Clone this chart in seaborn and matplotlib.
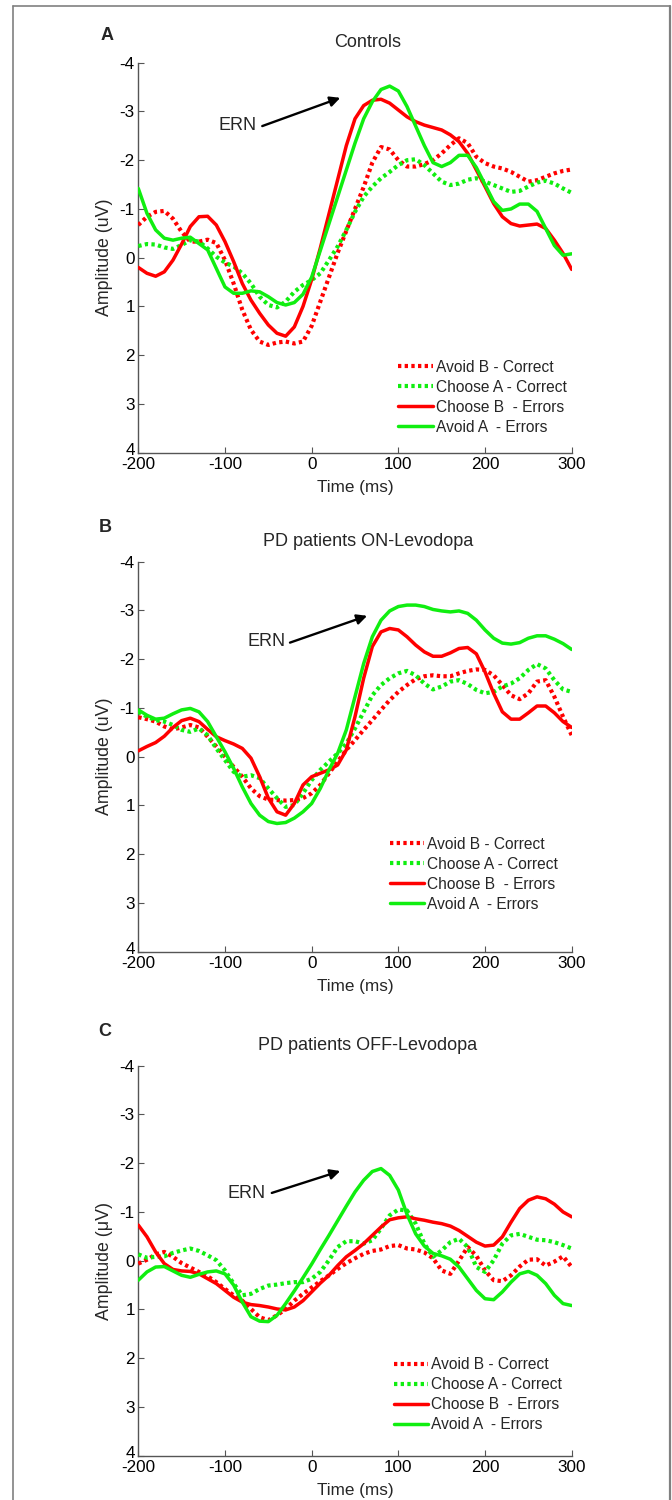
import numpy as np
import pandas as pd
import matplotlib
matplotlib.use("Agg")
import matplotlib.pyplot as plt
from matplotlib.lines import Line2D
import matplotlib.transforms as mtransforms
import seaborn as sns

sns.set_theme(style="white")
plt.rcParams['font.family'] = ['Liberation Sans', 'DejaVu Sans']

# ---------------- data ----------------
time_ms = np.arange(-200, 301, 10)
series_labels = ["Avoid B - Correct", "Choose A - Correct", "Choose B  - Errors", "Avoid A  - Errors"]
panel_titles = ["Controls", "PD patients ON-Levodopa", "PD patients OFF-Levodopa"]
panel_letters = ["A", "B", "C"]
ylabels = ["Amplitude (uV)", "Amplitude (uV)", "Amplitude (\u03bcV)"]
x_ticks = [-200, -100, 0, 100, 200, 300]
y_ticks = [-4, -3, -2, -1, 0, 1, 2, 3, 4]

# Panel A - Controls
a_avoidB_correct = [-0.67, -0.84, -0.94, -0.96, -0.80, -0.53, -0.33, -0.33, -0.37, -0.30,
                    0.05, 0.53, 1.07, 1.48, 1.72, 1.79, 1.74, 1.72, 1.76, 1.72,
                    1.40, 0.90, 0.40, -0.10, -0.55, -1.00, -1.45, -1.95, -2.27, -2.22,
                    -2.00, -1.87, -1.87, -1.92, -2.00, -2.14, -2.31, -2.45, -2.35, -2.07,
                    -1.94, -1.87, -1.83, -1.76, -1.66, -1.56, -1.59, -1.66, -1.73, -1.78, -1.81]
a_chooseA_correct = [-0.24, -0.28, -0.27, -0.21, -0.18, -0.26, -0.36, -0.33, -0.19, -0.02,
                     0.10, 0.18, 0.32, 0.53, 0.80, 0.97, 1.02, 0.90, 0.70, 0.56,
                     0.46, 0.32, 0.05, -0.23, -0.57, -0.94, -1.25, -1.46, -1.63, -1.76,
                     -1.90, -2.00, -2.02, -1.90, -1.73, -1.56, -1.49, -1.52, -1.60, -1.63,
                     -1.56, -1.49, -1.42, -1.35, -1.37, -1.46, -1.54, -1.58, -1.52, -1.42, -1.33]
a_chooseB_errors = [0.20, 0.32, 0.38, 0.29, 0.05, -0.28, -0.64, -0.84, -0.85, -0.67,
                    -0.33, 0.08, 0.53, 0.87, 1.14, 1.38, 1.55, 1.61, 1.42, 1.00,
                    0.45, -0.20, -0.90, -1.60, -2.30, -2.85, -3.12, -3.23, -3.25, -3.17,
                    -3.03, -2.89, -2.79, -2.72, -2.67, -2.62, -2.52, -2.38, -2.14, -1.80,
                    -1.46, -1.11, -0.84, -0.70, -0.65, -0.67, -0.69, -0.60, -0.36, -0.09, 0.24]
a_avoidA_errors = [-1.42, -0.91, -0.57, -0.40, -0.36, -0.40, -0.42, -0.29, -0.16, 0.22,
                   0.60, 0.73, 0.73, 0.68, 0.70, 0.80, 0.92, 0.97, 0.92, 0.75,
                   0.40, -0.15, -0.70, -1.25, -1.80, -2.35, -2.85, -3.20, -3.45, -3.52,
                   -3.42, -3.10, -2.70, -2.30, -1.95, -1.87, -1.95, -2.10, -2.10, -1.85,
                   -1.50, -1.15, -0.97, -1.00, -1.10, -1.10, -0.95, -0.60, -0.25, -0.05, -0.08]

# Panel B - PD ON
b_avoidB_correct = [-0.81, -0.77, -0.72, -0.62, -0.56, -0.60, -0.65, -0.60, -0.41, -0.21,
                    0.00, 0.21, 0.41, 0.65, 0.81, 0.88, 0.89, 0.90, 0.89, 0.85,
                    0.75, 0.58, 0.34, 0.10, -0.14, -0.34, -0.55, -0.75, -0.96, -1.16,
                    -1.33, -1.47, -1.59, -1.65, -1.67, -1.65, -1.65, -1.71, -1.76, -1.79,
                    -1.78, -1.67, -1.47, -1.26, -1.18, -1.30, -1.54, -1.57, -1.23, -0.82, -0.44]
b_chooseA_correct = [-0.92, -0.82, -0.75, -0.72, -0.65, -0.55, -0.51, -0.58, -0.44, -0.17,
                     0.07, 0.31, 0.41, 0.38, 0.44, 0.65, 0.85, 1.03, 0.99, 0.75,
                     0.48, 0.27, 0.10, -0.07, -0.27, -0.58, -0.92, -1.26, -1.47, -1.61,
                     -1.71, -1.76, -1.67, -1.50, -1.38, -1.44, -1.54, -1.57, -1.49, -1.37,
                     -1.30, -1.33, -1.44, -1.50, -1.61, -1.78, -1.90, -1.81, -1.57, -1.38, -1.33]
b_chooseB_errors = [-0.12, -0.21, -0.29, -0.42, -0.60, -0.74, -0.79, -0.72, -0.56, -0.41,
                    -0.33, -0.26, -0.17, 0.03, 0.41, 0.85, 1.13, 1.20, 0.96, 0.58,
                    0.41, 0.34, 0.27, 0.17, -0.14, -0.82, -1.61, -2.26, -2.56, -2.63,
                    -2.60, -2.46, -2.29, -2.15, -2.06, -2.06, -2.13, -2.22, -2.24, -2.11,
                    -1.74, -1.30, -0.92, -0.77, -0.77, -0.90, -1.04, -1.04, -0.90, -0.72, -0.60]
b_avoidA_errors = [-0.96, -0.85, -0.77, -0.79, -0.88, -0.96, -0.99, -0.92, -0.72, -0.41,
                   -0.10, 0.24, 0.62, 0.96, 1.20, 1.33, 1.37, 1.35, 1.26, 1.13,
                   0.96, 0.65, 0.27, -0.07, -0.55, -1.23, -1.91, -2.46, -2.80, -2.99,
                   -3.08, -3.11, -3.11, -3.08, -3.02, -2.99, -2.97, -2.99, -2.94, -2.80,
                   -2.60, -2.43, -2.33, -2.31, -2.34, -2.43, -2.48, -2.48, -2.41, -2.32, -2.20]

# Panel C - PD OFF
c_avoidB_correct = [0.06, -0.02, -0.13, -0.18, -0.08, 0.05, 0.14, 0.23, 0.32, 0.44,
                    0.58, 0.71, 0.82, 0.99, 1.16, 1.22, 1.12, 0.99, 0.82, 0.68,
                    0.55, 0.42, 0.30, 0.17, 0.05, -0.05, -0.14, -0.20, -0.23, -0.30,
                    -0.32, -0.25, -0.23, -0.17, -0.05, 0.20, 0.27, 0.00, -0.28, -0.10,
                    0.20, 0.40, 0.42, 0.30, 0.12, -0.02, -0.03, 0.10, 0.02, -0.09, 0.13]
c_chooseA_correct = [-0.13, -0.06, -0.08, -0.09, -0.16, -0.21, -0.25, -0.20, -0.11, -0.01,
                     0.20, 0.47, 0.71, 0.68, 0.58, 0.51, 0.49, 0.46, 0.44, 0.44,
                     0.37, 0.23, -0.01, -0.28, -0.40, -0.40, -0.35, -0.42, -0.66, -0.93,
                     -1.05, -1.03, -0.76, -0.35, -0.08, -0.21, -0.38, -0.45, -0.28, 0.13,
                     0.23, -0.01, -0.35, -0.52, -0.55, -0.49, -0.43, -0.42, -0.38, -0.32, -0.25]
c_chooseB_errors = [-0.73, -0.49, -0.18, 0.06, 0.18, 0.21, 0.22, 0.27, 0.37, 0.47,
                    0.61, 0.75, 0.85, 0.90, 0.92, 0.95, 0.99, 1.01, 0.95, 0.82,
                    0.64, 0.46, 0.30, 0.10, -0.08, -0.21, -0.35, -0.52, -0.69, -0.84,
                    -0.88, -0.90, -0.86, -0.83, -0.79, -0.76, -0.71, -0.62, -0.50, -0.38,
                    -0.30, -0.32, -0.49, -0.79, -1.07, -1.24, -1.31, -1.27, -1.16, -1.00, -0.90]
c_avoidA_errors = [0.40, 0.23, 0.13, 0.12, 0.21, 0.30, 0.34, 0.28, 0.23, 0.21,
                   0.27, 0.50, 0.85, 1.15, 1.24, 1.25, 1.12, 0.88, 0.62, 0.35,
                   0.07, -0.23, -0.52, -0.82, -1.12, -1.41, -1.65, -1.83, -1.89, -1.75,
                   -1.45, -0.95, -0.55, -0.30, -0.15, -0.10, -0.03, 0.13, 0.37, 0.61,
                   0.78, 0.80, 0.64, 0.44, 0.27, 0.22, 0.30, 0.47, 0.71, 0.88, 0.92]

panels = [
    [a_avoidB_correct, a_chooseA_correct, a_chooseB_errors, a_avoidA_errors],
    [b_avoidB_correct, b_chooseA_correct, b_chooseB_errors, b_avoidA_errors],
    [c_avoidB_correct, c_chooseA_correct, c_chooseB_errors, c_avoidA_errors],
]

# ERN annotation (text pos, arrow tail, arrow head) in data coords
ern_text = [(-85, -2.72), (-52, -2.36), (-75, -1.37)]
ern_tail = [(-57, -2.70), (-25, -2.34), (-46, -1.39)]
ern_head = [(33, -3.28), (64, -2.89), (33, -1.84)]

# ---------------- styles ----------------
RED = "#ff0000"
GREEN = "#10ee10"
colors = [RED, GREEN, RED, GREEN]
dotted = (0, (0.8, 0.8))
linestyles = [dotted, dotted, "-", "-"]
linewidths = [3.0, 3.0, 2.5, 2.5]

W, H = 672, 1500
fig = plt.figure(figsize=(W / 100, H / 100), dpi=100)
fig.patch.set_facecolor("white")

ax_left = 138.3
ax_w = 433.4
ax_tops = [62.7, 561.7, 1065.7]
ax_h = 390.0
legend_anchor = [(0.60, 0.238), (0.58, 0.295), (0.59, 0.253)]
letter_pos = [(107, 35), (105, 528), (105, 1032)]

for i in range(3):
    top = ax_tops[i]
    ax = fig.add_axes([ax_left / W, 1 - (top + ax_h) / H, ax_w / W, ax_h / H])
    ax.set_facecolor("white")
    for j in range(4):
        sns.lineplot(x=time_ms, y=panels[i][j], ax=ax, color=colors[j],
                     linestyle=linestyles[j], linewidth=linewidths[j],
                     label=series_labels[j], zorder=3 + (j >= 2))
    ax.set_xlim(-200, 300)
    ax.set_ylim(4, -4)
    ax.set_xticks(x_ticks)
    ax.set_yticks(y_ticks)
    ax.set_xticklabels([str(t) for t in x_ticks])
    ax.set_yticklabels([str(t) for t in y_ticks])
    for s in ["top", "right"]:
        ax.spines[s].set_visible(False)
    for s in ["left", "bottom"]:
        ax.spines[s].set_color("#555555")
        ax.spines[s].set_linewidth(1.0)
    ax.tick_params(direction="in", length=4, width=0.8, color="#555555",
                   labelsize=12.3, labelcolor="black", left=True, bottom=True)
    ax.tick_params(axis="y", pad=2.5)
    ax.tick_params(axis="x", pad=3)
    # nudge the bottom y tick label ("4") up a little, as in the reference
    lab4 = ax.get_yticklabels()[-1]
    lab4.set_transform(lab4.get_transform() + mtransforms.ScaledTranslation(0, 3 / 72, fig.dpi_scale_trans))
    ax.set_xlabel("Time (ms)", fontsize=12.3)
    ax.xaxis.set_label_coords(0.5, -0.09)
    ax.xaxis.label.set_va("center")
    ax.set_ylabel(ylabels[i], fontsize=12.8)
    ax.yaxis.set_label_coords(-0.077, 0.5)
    ax.yaxis.label.set_va("center")
    ax.text(0.53, 1 + 20 / ax_h, panel_titles[i], transform=ax.transAxes,
            ha="center", va="center", fontsize=13)
    fig.text(letter_pos[i][0] / W, 1 - letter_pos[i][1] / H, panel_letters[i],
             ha="center", va="center", fontsize=13, fontweight="bold")
    ax.annotate("", xy=ern_head[i], xytext=ern_tail[i],
                arrowprops=dict(arrowstyle="-|>", color="black", lw=1.7,
                                mutation_scale=15, shrinkA=0, shrinkB=0))
    ax.text(ern_text[i][0], ern_text[i][1], "ERN", ha="center", va="center", fontsize=13)
    leg = ax.legend(loc="upper left", bbox_to_anchor=legend_anchor[i], frameon=False,
                    handlelength=2.2, handletextpad=0.2, labelspacing=0.32,
                    borderpad=0, borderaxespad=0, fontsize=11.2)

# outer border
bc = "#808080"
fig.add_artist(Line2D([13 / W, 670 / W], [1 - 6 / H, 1 - 6 / H], transform=fig.transFigure, color=bc, lw=1.2))
fig.add_artist(Line2D([13 / W, 13 / W], [1 - 6 / H, 0], transform=fig.transFigure, color=bc, lw=1.2))
fig.add_artist(Line2D([670 / W, 670 / W], [1 - 6 / H, 0], transform=fig.transFigure, color=bc, lw=1.6))

fig.savefig("out.png", dpi=100, facecolor="white")
